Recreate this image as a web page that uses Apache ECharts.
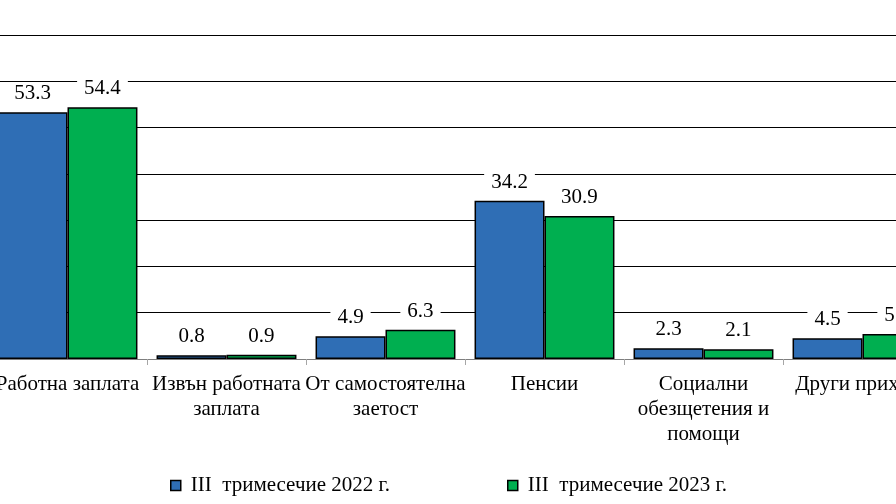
<!DOCTYPE html>
<html><head><meta charset="utf-8">
<script src="https://cdn.jsdelivr.net/npm/echarts@6/dist/echarts.min.js"></script>
<style>html,body{margin:0;padding:0;background:#fff;overflow:hidden;width:896px;height:504px;position:relative}
#c{width:954px;height:504px;position:absolute;left:-12px;top:0}</style>
</head><body><div id="c"></div>
<script>
const categories = ['Работна заплата', 'Извън работната\nзаплата', 'От самостоятелна\nзаетост', 'Пенсии', 'Социални\nобезщетения и\nпомощи', 'Други приходи'];
const seriesNames = ['III  тримесечие 2022 г.', 'III  тримесечие 2023 г.'];
const values2022 = [53.3, 0.8, 4.9, 34.2, 2.3, 4.5];
const values2023 = [54.4, 0.9, 6.3, 30.9, 2.1, 5.4];
const colors = ['#2F6EB5', '#00AF50'];
const FONT = '"Liberation Serif", "Times New Roman", serif';
const FS = 21;

const chart = echarts.init(document.getElementById('c'), null, {renderer: 'canvas'});
const labelCfg = {
  show: true, position: 'top', distance: 8,
  color: '#000', fontFamily: FONT, fontSize: FS,
  backgroundColor: '#fff', padding: [0, 7],
  formatter: p => p.value.toFixed(1)
};
const legendBase = {itemWidth: 10, itemHeight: 10, icon: 'rect', padding: 0, top: 475,
  itemStyle: {borderColor: '#000', borderWidth: 1.5},
  textStyle: {fontFamily: FONT, fontSize: FS, color: '#000', padding: [0, 0, 0, 5]}};
chart.setOption({
  animation: false,
  backgroundColor: '#fff',
  legend: [
    Object.assign({data: [seriesNames[0]], left: 182}, legendBase),
    Object.assign({data: [seriesNames[1]], left: 519}, legendBase)
  ],
  grid: {left: 0, right: 0, top: 35, bottom: 145, containLabel: false},
  xAxis: {
    type: 'category', data: categories,
    axisLine: {lineStyle: {color: '#7f7f7f', width: 1}},
    axisTick: {show: true, length: 6, lineStyle: {color: '#a6a6a6'}},
    axisLabel: {interval: 0, color: '#000', fontFamily: FONT, fontSize: FS, lineHeight: 25, margin: 13}
  },
  yAxis: {
    type: 'value', min: 0, max: 70, interval: 10,
    axisLabel: {show: false}, axisLine: {show: false}, axisTick: {show: false},
    splitLine: {lineStyle: {color: '#000', width: 1}}
  },
  series: [
    {name: seriesNames[0], type: 'bar', data: values2022, barGap: '0%', barCategoryGap: '12%',
     itemStyle: {color: colors[0], borderColor: '#000', borderWidth: 1.5}, label: labelCfg},
    {name: seriesNames[1], type: 'bar', data: values2023, barGap: '0%', barCategoryGap: '12%',
     itemStyle: {color: colors[1], borderColor: '#000', borderWidth: 1.5}, label: labelCfg}
  ]
});
</script></body></html>
